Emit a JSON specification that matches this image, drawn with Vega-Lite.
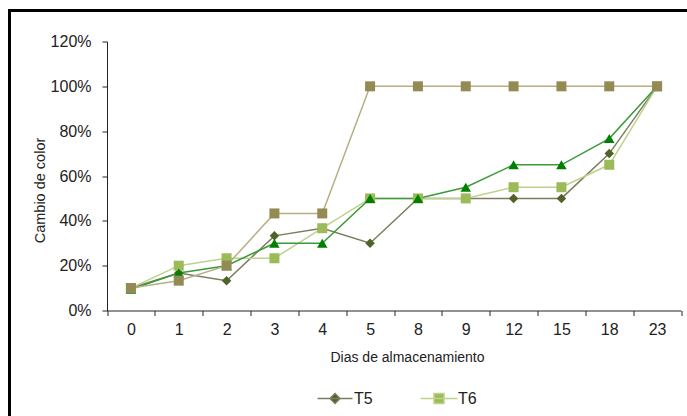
{
  "$schema": "https://vega.github.io/schema/vega-lite/v6.json",
  "autosize": {"type": "none"},
  "padding": {"left": 9.5, "top": 10.5, "right": 0, "bottom": 0},
  "width": 700,
  "height": 420,
  "background": "white",
  "config": {
    "view": {"stroke": "#000000", "strokeWidth": 3},
    "font": "Liberation Sans",
    "legend": {
      "orient": "none",
      "legendX": 317.5,
      "legendY": 380,
      "direction": "horizontal",
      "symbolSize": 100,
      "labelOffset": 11,
      "columnPadding": 44,
      "labelFontSize": 16,
      "labelColor": "#222222",
      "symbolStrokeWidth": 1.5
    }
  },
  "data": {
    "values": [
      {"serie": "T5", "dia": "0", "valor": 0.10},
      {"serie": "T5", "dia": "1", "valor": 0.167},
      {"serie": "T5", "dia": "2", "valor": 0.133},
      {"serie": "T5", "dia": "3", "valor": 0.333},
      {"serie": "T5", "dia": "4", "valor": 0.367},
      {"serie": "T5", "dia": "5", "valor": 0.30},
      {"serie": "T5", "dia": "8", "valor": 0.50},
      {"serie": "T5", "dia": "9", "valor": 0.50},
      {"serie": "T5", "dia": "12", "valor": 0.50},
      {"serie": "T5", "dia": "15", "valor": 0.50},
      {"serie": "T5", "dia": "18", "valor": 0.70},
      {"serie": "T5", "dia": "23", "valor": 1.00},
      {"serie": "T6", "dia": "0", "valor": 0.10},
      {"serie": "T6", "dia": "1", "valor": 0.20},
      {"serie": "T6", "dia": "2", "valor": 0.233},
      {"serie": "T6", "dia": "3", "valor": 0.233},
      {"serie": "T6", "dia": "4", "valor": 0.367},
      {"serie": "T6", "dia": "5", "valor": 0.50},
      {"serie": "T6", "dia": "8", "valor": 0.50},
      {"serie": "T6", "dia": "9", "valor": 0.50},
      {"serie": "T6", "dia": "12", "valor": 0.55},
      {"serie": "T6", "dia": "15", "valor": 0.55},
      {"serie": "T6", "dia": "18", "valor": 0.65},
      {"serie": "T6", "dia": "23", "valor": 1.00},
      {"serie": "T7", "dia": "0", "valor": 0.095},
      {"serie": "T7", "dia": "1", "valor": 0.167},
      {"serie": "T7", "dia": "2", "valor": 0.20},
      {"serie": "T7", "dia": "3", "valor": 0.30},
      {"serie": "T7", "dia": "4", "valor": 0.30},
      {"serie": "T7", "dia": "5", "valor": 0.50},
      {"serie": "T7", "dia": "8", "valor": 0.50},
      {"serie": "T7", "dia": "9", "valor": 0.55},
      {"serie": "T7", "dia": "12", "valor": 0.65},
      {"serie": "T7", "dia": "15", "valor": 0.65},
      {"serie": "T7", "dia": "18", "valor": 0.767},
      {"serie": "T7", "dia": "23", "valor": 1.00},
      {"serie": "T8", "dia": "0", "valor": 0.10},
      {"serie": "T8", "dia": "1", "valor": 0.133},
      {"serie": "T8", "dia": "2", "valor": 0.20},
      {"serie": "T8", "dia": "3", "valor": 0.433},
      {"serie": "T8", "dia": "4", "valor": 0.433},
      {"serie": "T8", "dia": "5", "valor": 1.00},
      {"serie": "T8", "dia": "8", "valor": 1.00},
      {"serie": "T8", "dia": "9", "valor": 1.00},
      {"serie": "T8", "dia": "12", "valor": 1.00},
      {"serie": "T8", "dia": "15", "valor": 1.00},
      {"serie": "T8", "dia": "18", "valor": 1.00},
      {"serie": "T8", "dia": "23", "valor": 1.00}
    ]
  },
  "encoding": {
    "x": {
      "field": "dia",
      "type": "ordinal",
      "sort": ["0", "1", "2", "3", "4", "5", "8", "9", "12", "15", "18", "23"],
      "bandPosition": 0.5,
      "scale": {"type": "band", "range": [97.5, 671.5], "paddingInner": 0, "paddingOuter": 0},
      "axis": {
        "title": "Dias de almacenamiento",
        "orient": "bottom",
        "offset": -120,
        "labelAngle": 0,
        "tickBand": "extent",
        "tickSize": 5,
        "labelPadding": 6,
        "labelFontSize": 16,
        "labelColor": "#222222",
        "titleFontSize": 14,
        "titleFontWeight": "normal",
        "titleColor": "#222222",
        "titleBaseline": "top",
        "titleX": 397.5,
        "titleY": 40,
        "grid": false,
        "domainColor": "#222222",
        "tickColor": "#222222"
      }
    },
    "y": {
      "field": "valor",
      "type": "quantitative",
      "scale": {"domain": [0, 1.2], "range": [300, 31], "nice": false, "zero": true},
      "axis": {
        "title": "Cambio de color",
        "offset": -97.5,
        "values": [0, 0.2, 0.4, 0.6, 0.8, 1.0, 1.2],
        "format": ".0%",
        "tickSize": 5,
        "labelPadding": 11,
        "labelFontSize": 16,
        "labelColor": "#222222",
        "titleFontSize": 14.5,
        "titleFontWeight": "normal",
        "titleColor": "#222222",
        "titleX": -67,
        "titleY": 179.5,
        "titleAngle": 270,
        "titleAlign": "center",
        "titleBaseline": "middle",
        "grid": false,
        "domainColor": "#222222",
        "tickColor": "#222222"
      }
    }
  },
  "layer": [
    {
      "mark": {"type": "line", "strokeWidth": 1.5},
      "encoding": {
        "stroke": {
          "field": "serie",
          "type": "nominal",
          "scale": {"domain": ["T5", "T6", "T7", "T8"], "range": ["#7d7d5d", "#bdd28c", "#3a9a3a", "#b8ae84"]},
          "legend": {
            "title": null,
            "values": ["T5", "T6"],
            "encode": {
              "symbols": {
                "update": {
                  "shape": {"signal": "datum.value === 'T5' ? 'M-3.5,0H3.5M0,-1L1,0L0,1L-1,0Z' : 'M-3.7,0H3.7M-1,-1H1V1H-1Z'"},
                  "fill": {"signal": "datum.value === 'T5' ? '#4f6228' : '#9bbb59'"},
                  "stroke": {"signal": "datum.value === 'T5' ? '#5b6a36' : '#a9c86c'"},
                  "strokeWidth": {"value": 1.5}
                }
              }
            }
          }
        }
      }
    },
    {
      "layer": [
        {
          "transform": [{"filter": "datum.serie === 'T5'"}],
          "mark": {"type": "point", "filled": true, "opacity": 1, "shape": "diamond", "size": 90, "color": "#4f6228"}
        },
        {
          "transform": [{"filter": "datum.serie === 'T6'"}],
          "mark": {"type": "point", "filled": true, "opacity": 1, "shape": "square", "size": 100, "color": "#9bbb59"}
        },
        {
          "transform": [{"filter": "datum.serie === 'T7'"}],
          "mark": {"type": "point", "filled": true, "opacity": 1, "shape": "triangle-up", "size": 110, "color": "#008000"}
        },
        {
          "transform": [{"filter": "datum.serie === 'T8'"}],
          "mark": {"type": "point", "filled": true, "opacity": 1, "shape": "square", "size": 100, "color": "#948a54"}
        }
      ]
    }
  ]
}
